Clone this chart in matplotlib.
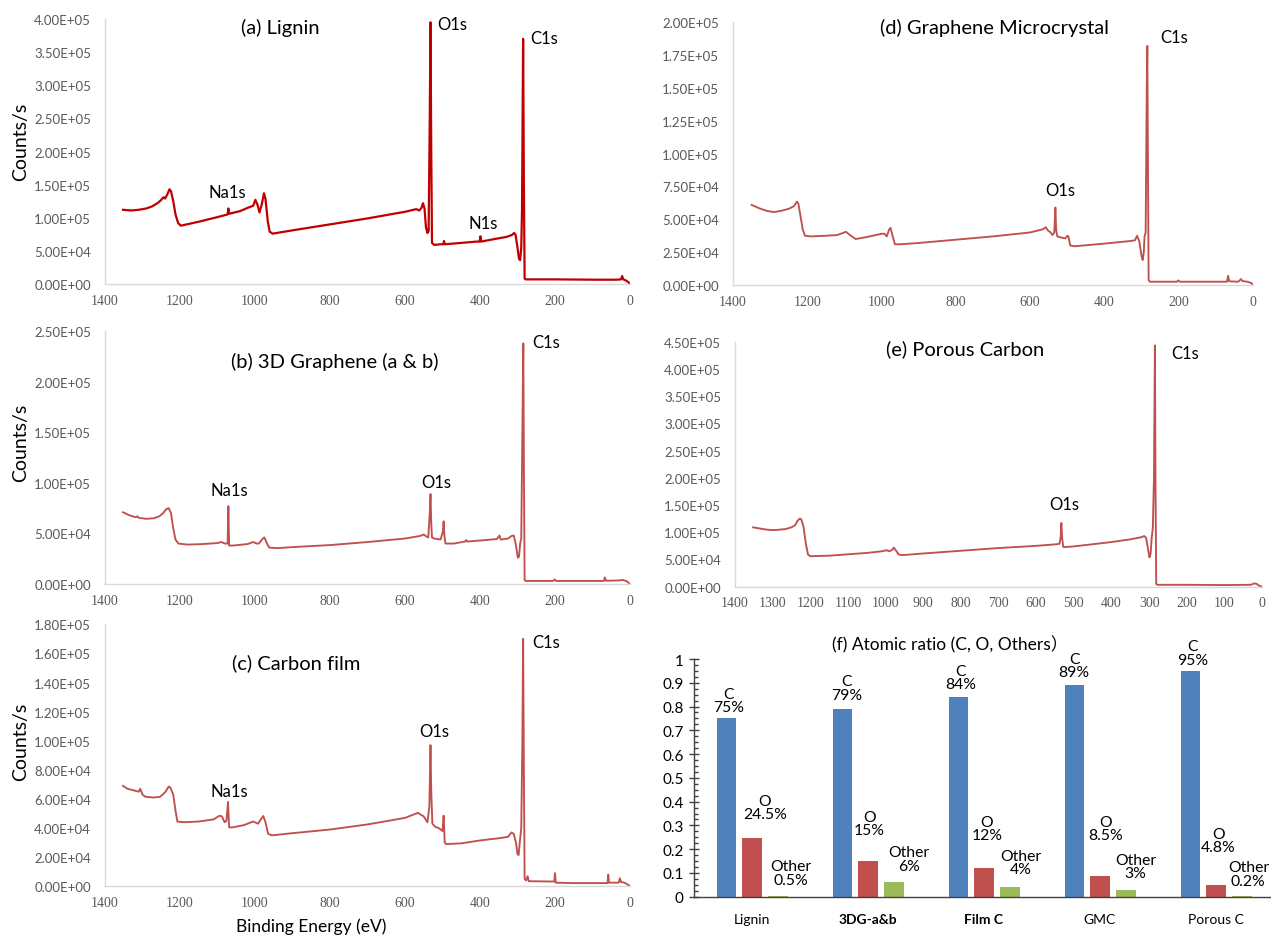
import matplotlib
matplotlib.use('Agg')
import matplotlib.pyplot as plt
from matplotlib.ticker import FuncFormatter, MultipleLocator

plt.rcParams['font.family'] = ['Lato', 'DejaVu Sans']

# ---------------- data ----------------
lignin_be = [1352, 1330, 1310, 1290, 1275, 1260, 1250, 1244, 1240, 1234, 1228, 1224, 1218, 1212, 1205, 1198, 1190,
             1150, 1100, 1073, 1071, 1069, 1040, 1015, 1005, 999, 993, 988, 982, 976, 972, 966, 961, 953, 900, 800,
             700, 600, 570, 562, 556, 552, 548, 544, 540, 537, 534, 532, 530, 528, 522, 505, 498, 496, 494, 450, 410,
             401, 399, 397, 360, 330, 315, 309, 305, 300, 296, 293, 290, 288, 285, 283, 281, 278, 200, 100, 35, 24,
             21, 18, 10, 3, 0]
lignin_cps = [112e3, 111e3, 112e3, 114e3, 117e3, 122e3, 127e3, 131e3, 129e3, 135e3, 143e3, 140e3, 125e3, 105e3,
              92e3, 88e3, 89e3, 94e3, 101e3, 105e3, 114e3, 106e3, 110e3, 116e3, 118e3, 127e3, 119e3, 108e3, 120e3,
              137e3, 128e3, 95e3, 79e3, 76e3, 81e3, 90e3, 99e3, 109e3, 113e3, 111e3, 115e3, 122e3, 114e3, 85e3,
              77e3, 80e3, 250e3, 395e3, 200e3, 62e3, 59e3, 60e3, 60e3, 65e3, 60e3, 62e3, 64e3, 64e3, 72e3, 64e3,
              68e3, 71e3, 74e3, 77e3, 74e3, 55e3, 38e3, 36e3, 55e3, 110e3, 370e3, 150e3, 8e3, 7e3, 7e3, 6.5e3,
              6.5e3, 7e3, 12e3, 7e3, 5e3, 2e3, 0.5e3]

gmc_be = [1350, 1330, 1310, 1290, 1270, 1250, 1236, 1228, 1224, 1218, 1212, 1206, 1190, 1150, 1120, 1105, 1096,
          1085, 1070, 1040, 1000, 992, 986, 980, 976, 970, 964, 950, 900, 800, 700, 600, 565, 558, 552, 545, 540,
          535, 532, 530, 527, 515, 505, 500, 497, 492, 480, 400, 330, 318, 312, 306, 300, 297, 294, 292, 289, 286,
          284.5, 283, 281, 278, 205, 201, 197, 70, 67, 64, 40, 32, 29, 15, 5, 0]
gmc_cps = [61e3, 58.5e3, 56.5e3, 55.5e3, 56.5e3, 58e3, 60e3, 63.5e3, 62e3, 52e3, 42e3, 37.5e3, 37e3, 37.5e3, 38e3,
           39.5e3, 40.5e3, 38e3, 35e3, 36.5e3, 39e3, 39e3, 37e3, 42e3, 43.5e3, 37e3, 31e3, 31e3, 32e3, 34.5e3,
           37e3, 40e3, 42.5e3, 44e3, 41.5e3, 40e3, 38e3, 40e3, 59e3, 42e3, 37e3, 36e3, 35.5e3, 37.5e3, 37e3,
           30e3, 29.5e3, 31.5e3, 33.5e3, 34e3, 37.5e3, 33e3, 22e3, 19e3, 25e3, 37e3, 40e3, 150e3, 182e3, 100e3,
           4e3, 2.5e3, 2.5e3, 3.5e3, 2.5e3, 2.5e3, 7e3, 2.8e3, 2.5e3, 4.5e3, 3e3, 2.5e3, 1.5e3, 0.3e3]

g3d_be = [1352, 1335, 1318, 1314, 1310, 1290, 1270, 1255, 1245, 1237, 1230, 1224, 1218, 1212, 1204, 1180, 1140,
          1100, 1090, 1080, 1073, 1071, 1069, 1060, 1020, 1005, 995, 990, 979, 975, 968, 962, 940, 900, 800, 700,
          600, 560, 550, 543, 538, 534, 532, 530, 528, 522, 505, 499, 497, 495, 492, 470, 440, 437, 434, 400, 355,
          348, 345, 325, 316, 310, 305, 299, 296, 293, 290, 287, 284.5, 283, 281, 278, 205, 201, 197, 70, 67, 64,
          30, 20, 10, 3, 0]
g3d_cps = [71e3, 68e3, 66e3, 67e3, 65.5e3, 64.5e3, 65e3, 67e3, 70e3, 74e3, 75e3, 70e3, 55e3, 44e3, 40e3, 39e3,
           39.5e3, 40.5e3, 41.5e3, 40e3, 40e3, 77e3, 38e3, 38e3, 39.5e3, 41.5e3, 40e3, 40e3, 45e3, 46e3, 40e3,
           36e3, 35.5e3, 36.5e3, 38.5e3, 41.5e3, 45e3, 47.5e3, 49e3, 47e3, 46e3, 70e3, 89e3, 60e3, 46e3, 45e3,
           44e3, 52e3, 62e3, 48e3, 40e3, 40e3, 42e3, 43.5e3, 42e3, 43e3, 44.5e3, 48e3, 44e3, 45e3, 47.5e3, 48e3,
           40e3, 26e3, 27e3, 40e3, 45e3, 150e3, 238e3, 120e3, 4e3, 3e3, 3e3, 4.5e3, 3e3, 3e3, 6.5e3, 3.2e3,
           3.5e3, 4e3, 3e3, 1e3, 0.5e3]

porous_be = [1352, 1335, 1318, 1300, 1285, 1265, 1250, 1240, 1234, 1228, 1224, 1218, 1212, 1206, 1200, 1150, 1100,
             1050, 1010, 998, 990, 982, 978, 972, 965, 955, 900, 800, 700, 600, 545, 538, 535, 533, 531, 528, 520,
             500, 450, 400, 350, 320, 313, 308, 303, 299, 296, 293, 290, 287, 284.5, 283, 281, 278, 200, 100, 30,
             20, 15, 8, 0]
porous_cps = [109e3, 107e3, 105e3, 104e3, 104.5e3, 106e3, 109e3, 113e3, 121e3, 125e3, 124e3, 110e3, 80e3, 59e3,
              56e3, 57e3, 59.5e3, 62e3, 65e3, 67e3, 65e3, 68e3, 72e3, 66e3, 59e3, 58e3, 61e3, 66e3, 71e3, 75e3,
              78e3, 79e3, 90e3, 117e3, 90e3, 73e3, 73e3, 74e3, 78e3, 82e3, 87e3, 91e3, 93e3, 90e3, 70e3, 54e3,
              60e3, 90e3, 108e3, 200e3, 443e3, 200e3, 5e3, 3.5e3, 3.5e3, 3e3, 3.5e3, 6e3, 5.5e3, 2e3, 0.3e3]

film_be = [1352, 1340, 1325, 1310, 1306, 1300, 1292, 1270, 1253, 1240, 1230, 1226, 1218, 1212, 1207, 1190, 1150,
           1110, 1095, 1088, 1081, 1076, 1072, 1069, 1060, 1030, 1005, 1000, 992, 983, 978, 972, 965, 955, 900, 800,
           700, 600, 565, 560, 550, 540, 535, 532, 530, 527, 520, 510, 500, 497, 494, 490, 450, 400, 350, 325, 316,
           310, 304, 300, 297, 294, 290, 287, 285, 283, 281, 277, 273, 270, 210, 202, 200, 198, 150, 60, 58, 56,
           30, 27, 24, 15, 5, 0]
film_cps = [69e3, 67e3, 66e3, 65e3, 67e3, 63e3, 61.5e3, 61e3, 61.5e3, 64.5e3, 68.5e3, 68e3, 63e3, 52e3, 44.5e3,
            44e3, 44.5e3, 46e3, 48.5e3, 48e3, 44e3, 45e3, 58e3, 40.5e3, 40.5e3, 42e3, 44.5e3, 44e3, 43e3, 46.5e3,
            48.3e3, 44e3, 36e3, 35e3, 36.5e3, 39e3, 42.5e3, 47e3, 50.5e3, 49.5e3, 48e3, 44e3, 55e3, 97e3, 65e3,
            43e3, 41e3, 40e3, 38e3, 48.5e3, 30e3, 29e3, 29.5e3, 31.5e3, 33e3, 34e3, 37e3, 36e3, 30e3, 22e3,
            21.5e3, 30e3, 40e3, 100e3, 170e3, 80e3, 5e3, 4e3, 7e3, 3.5e3, 3.3e3, 3.3e3, 9e3, 2.5e3, 2.2e3, 2.2e3,
            8e3, 2.5e3, 2.5e3, 5.5e3, 3e3, 2.5e3, 1e3, 0.3e3]

categories = ['Lignin', '3DG-a&b', 'Film C', 'GMC', 'Porous C']
c_ratio = [0.75, 0.79, 0.84, 0.89, 0.95]
o_ratio = [0.245, 0.15, 0.12, 0.085, 0.048]
other_ratio = [0.005, 0.06, 0.04, 0.03, 0.002]
c_text = ['75%', '79%', '84%', '89%', '95%']
o_text = ['24.5%', '15%', '12%', '8.5%', '4.8%']
other_text = ['0.5%', '6%', '4%', '3%', '0.2%']

# label placement (layout, data units of panel f)
c_lab_y = [0.825, 0.878, 0.923, 0.972, 1.026]
o_lab_y = [0.376, 0.309, 0.286, 0.286, 0.237]
oth_lab_y = [0.10, 0.158, 0.143, 0.128, 0.095]
c_lab_dx = [0.02, 0.035, 0.02, 0.0, 0.02]
o_lab_dx = [0.11, 0.01, 0.025, 0.047, 0.023]
oth_lab_dx = [0.108, 0.129, 0.094, 0.082, 0.055]

# ---------------- figure ----------------
W, H = 1271, 937
fig = plt.figure(figsize=(W / 100, H / 100), dpi=100)


def add_ax(l, r, t, b):
    return fig.add_axes([l / W, 1 - b / H, (r - l) / W, (b - t) / H])


def ftext(px, py, s, **kw):
    kw.setdefault('ha', 'center')
    kw.setdefault('va', 'center')
    fig.text(px / W, 1 - py / H, s, **kw)


def style_spec(ax, ymax, ystep, xstep):
    ax.set_xlim(1400, 0)
    ax.set_ylim(0, ymax)
    ax.yaxis.set_major_locator(MultipleLocator(ystep))
    ax.xaxis.set_major_locator(MultipleLocator(xstep))
    ax.yaxis.set_major_formatter(FuncFormatter(lambda v, p: f"{v:.2E}"))
    ax.xaxis.set_major_formatter(FuncFormatter(lambda v, p: f"{v:.0f}"))
    for s in ['top', 'right']:
        ax.spines[s].set_visible(False)
    for s in ['left', 'bottom']:
        ax.spines[s].set_color('#D9D9D9')
        ax.spines[s].set_linewidth(1.0)
    ax.tick_params(length=0, colors='#595959')
    ax.tick_params(axis='y', labelsize=9.5, pad=10)
    ax.tick_params(axis='x', labelsize=10, pad=7)
    ax.set_facecolor('none')
    for lab in ax.get_xticklabels():
        lab.set_fontfamily('Liberation Serif')


RED = '#C0504D'

ax_a = add_ax(105, 630, 20, 285)
ax_a.plot(lignin_be, lignin_cps, color='#C00000', lw=1.6)
style_spec(ax_a, 4.0e5, 5e4, 200)

ax_d = add_ax(733, 1253, 23.3, 286)
ax_d.plot(gmc_be, gmc_cps, color=RED, lw=1.35)
style_spec(ax_d, 2.0e5, 2.5e4, 200)

ax_b = add_ax(105, 630, 332.3, 585)
ax_b.plot(g3d_be, g3d_cps, color=RED, lw=1.35)
style_spec(ax_b, 2.5e5, 5e4, 200)

ax_e = add_ax(735, 1262, 342.7, 587.7)
ax_e.plot(porous_be, porous_cps, color=RED, lw=1.35)
style_spec(ax_e, 4.5e5, 5e4, 100)

ax_c = add_ax(105, 630, 625.3, 887.3)
ax_c.plot(film_be, film_cps, color=RED, lw=1.35)
style_spec(ax_c, 1.8e5, 2e4, 200)

# titles and peak labels
TS = 14.5
PS = 12
ftext(280, 28, '(a) Lignin', fontsize=TS)
ftext(452, 25, 'O1s', fontsize=PS)
ftext(544, 39, 'C1s', fontsize=PS)
ftext(227.5, 193, 'Na1s', fontsize=PS)
ftext(483.6, 224, 'N1s', fontsize=PS)

ftext(995, 28.3, '(d) Graphene Microcrystal', fontsize=TS)
ftext(1174, 37.7, 'C1s', fontsize=PS)
ftext(1060, 190.7, 'O1s', fontsize=PS)

ftext(334.4, 362.3, '(b) 3D Graphene (a & b)', fontsize=TS)
ftext(546, 343.3, 'C1s', fontsize=PS)
ftext(436.5, 482.7, 'O1s', fontsize=PS)
ftext(229.5, 491, 'Na1s', fontsize=PS)

ftext(965.4, 349, '(e) Porous Carbon', fontsize=TS)
ftext(1185.5, 354, 'C1s', fontsize=PS)
ftext(1064, 505, 'O1s', fontsize=PS)

ftext(296.5, 663.3, '(c) Carbon film', fontsize=TS)
ftext(546, 643.3, 'C1s', fontsize=PS)
ftext(434.4, 732.3, 'O1s', fontsize=PS)
ftext(229.5, 792.3, 'Na1s', fontsize=PS)

for yc in (141.7, 442.5, 742):
    ftext(20.5, yc, 'Counts/s', fontsize=14, rotation=90)
ftext(310.7, 927, 'Binding Energy (eV)', fontsize=12.5)

# ---------------- panel (f) ----------------
ax_f = add_ax(694, 1274, 660, 897.7)
x = list(range(len(categories)))
bw = 0.166
offs = [-0.222, 0.0, 0.224]
ax_f.bar([i + offs[0] for i in x], c_ratio, width=bw, color='#4F81BD')
ax_f.bar([i + offs[1] for i in x], o_ratio, width=bw, color='#C0504D')
ax_f.bar([i + offs[2] for i in x], other_ratio, width=bw, color='#9BBB59')
ax_f.set_xlim(-0.5, 4.5)
ax_f.set_ylim(0, 1)
ax_f.set_xticks(x)
ax_f.set_xticklabels(categories)
for i, lab in enumerate(ax_f.get_xticklabels()):
    if categories[i] in ('3DG-a&b', 'Film C'):
        lab.set_fontweight('bold')
ax_f.yaxis.set_major_locator(MultipleLocator(0.1))
ax_f.yaxis.set_minor_locator(MultipleLocator(0.025))
ax_f.yaxis.set_major_formatter(FuncFormatter(lambda v, p: f"{v:g}"))
for s in ['top', 'right']:
    ax_f.spines[s].set_visible(False)
for s in ['left', 'bottom']:
    ax_f.spines[s].set_color('#404040')
    ax_f.spines[s].set_linewidth(1.0)
ax_f.tick_params(axis='x', length=0, labelsize=10, pad=12, colors='#000000')
ax_f.tick_params(axis='y', which='major', direction='inout', length=7, width=1, color='#404040',
                 labelsize=11, pad=4)
ax_f.tick_params(axis='y', which='minor', direction='in', length=3, width=1, color='#404040')
ax_f.set_facecolor('none')

LS = 11.3
for i in x:
    ax_f.text(i + offs[0] + c_lab_dx[i], c_lab_y[i], 'C\n' + c_text[i], ha='center', va='center',
              fontsize=LS, linespacing=0.95)
    ax_f.text(i + offs[1] + o_lab_dx[i], o_lab_y[i], 'O\n' + o_text[i], ha='center', va='center',
              fontsize=LS, linespacing=0.95)
    ax_f.text(i + offs[2] + oth_lab_dx[i], oth_lab_y[i], 'Other\n' + other_text[i], ha='center', va='center',
              fontsize=LS, linespacing=0.95, clip_on=False)

ftext(950.4, 645, '(f) Atomic ratio (C, O, Others\uff09', fontsize=12.5, family=['Lato', 'Noto Sans CJK SC'])

fig.savefig('out.png', dpi=100, facecolor='white')
